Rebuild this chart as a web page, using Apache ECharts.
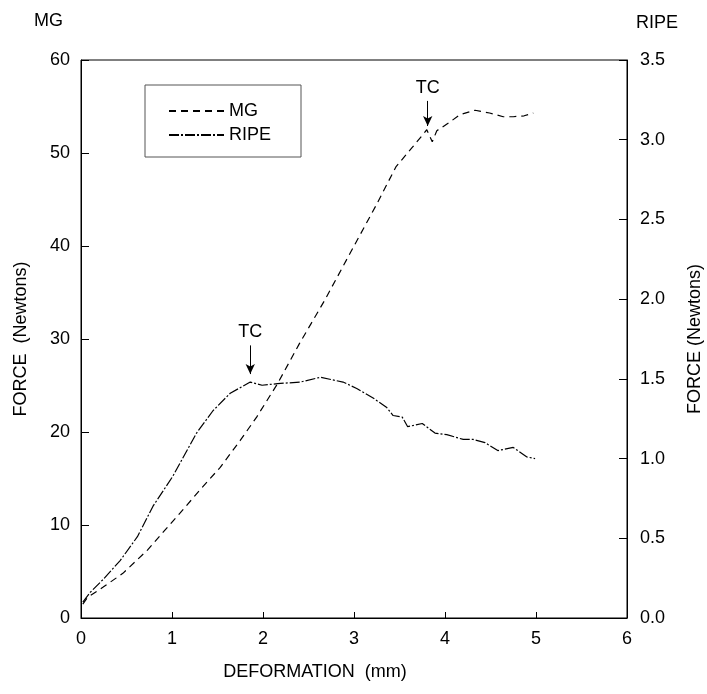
<!DOCTYPE html>
<html>
<head>
<meta charset="utf-8">
<script src="https://cdn.jsdelivr.net/npm/echarts@6/dist/echarts.min.js"></script>
<style>
  html, body { margin: 0; padding: 0; background: #fff; }
  #chart { width: 707px; height: 694px; }
</style>
</head>
<body>
<div id="chart"></div>
<script>
// deformation (mm) / force (N)
var mgX = [0.02, 0.07, 0.24, 0.46, 0.73, 0.90, 1.09, 1.31, 1.53, 1.75, 1.93, 2.16, 2.40, 2.68, 3.00, 3.25, 3.46, 3.64, 3.75, 3.80, 3.86, 3.91, 4.05, 4.16, 4.33, 4.49, 4.64, 4.75, 4.87, 4.97];
var mgY = [1.5, 2.2, 3.3, 4.8, 7.3, 9.2, 11.3, 13.8, 16.2, 19.1, 21.6, 25.2, 29.5, 34.2, 40.0, 44.5, 48.5, 50.6, 51.9, 52.5, 51.2, 52.4, 53.3, 54.1, 54.6, 54.3, 53.9, 53.9, 54.0, 54.3];

var ripeX = [0.02, 0.10, 0.24, 0.43, 0.62, 0.79, 1.01, 1.27, 1.45, 1.64, 1.86, 1.99, 2.16, 2.41, 2.63, 2.88, 3.03, 3.21, 3.36, 3.43, 3.53, 3.59, 3.75, 3.89, 4.02, 4.20, 4.31, 4.44, 4.58, 4.75, 4.90, 4.99];
var ripeY = [0.10, 0.16, 0.24, 0.36, 0.51, 0.70, 0.89, 1.16, 1.30, 1.41, 1.48, 1.46, 1.47, 1.48, 1.51, 1.48, 1.44, 1.38, 1.32, 1.27, 1.26, 1.20, 1.22, 1.16, 1.15, 1.12, 1.12, 1.10, 1.05, 1.07, 1.01, 1.00];

var xTicks = [0, 6, 1];
var mgTicks = [0, 60, 10];
var ripeTicks = [0, 3.5, 0.5];

function pairs(xs, ys) {
    return xs.map(function (x, i) { return [x, ys[i]]; });
}

var font = 'Liberation Sans';
var fs = 18;
var chart = echarts.init(document.getElementById('chart'));

var tcLabel = {
    show: true,
    position: 'start',
    formatter: 'TC',
    color: '#000',
    fontSize: fs,
    fontFamily: font,
    distance: 4
};

chart.setOption({
    animation: false,
    backgroundColor: '#fff',
    textStyle: { fontFamily: font, color: '#000' },
    grid: {
        left: 81, right: 80, top: 60, bottom: 76,
        outerBoundsMode: 'none',
        containLabel: false,
        show: true, borderColor: '#000', borderWidth: 1
    },
    legend: {
        orient: 'vertical',
        left: 145, top: 85,
        padding: [17, 30, 13, 23],
        itemGap: 6,
        itemWidth: 55,
        itemHeight: 12,
        itemStyle: { opacity: 0 },
        borderColor: '#555',
        borderWidth: 1,
        textStyle: { fontSize: fs, fontFamily: font, color: '#000' },
        data: ['MG', 'RIPE']
    },
    xAxis: {
        type: 'value',
        min: xTicks[0], max: xTicks[1], interval: xTicks[2],
        name: 'DEFORMATION  (mm)',
        nameLocation: 'middle',
        nameGap: 45,
        nameTextStyle: { fontSize: fs, fontFamily: font, color: '#000', padding: [0, 78, 0, 0] },
        axisLine: { lineStyle: { color: '#000' } },
        axisTick: { inside: true, length: 6, lineStyle: { color: '#000' } },
        axisLabel: { fontSize: fs, color: '#000', margin: 12 },
        splitLine: { show: false }
    },
    yAxis: [{
        type: 'value',
        min: mgTicks[0], max: mgTicks[1], interval: mgTicks[2],
        name: 'FORCE  (Newtons)',
        nameLocation: 'middle',
        nameGap: 51,
        nameTextStyle: { fontSize: fs, fontFamily: font, color: '#000' },
        axisLine: { show: true, lineStyle: { color: '#000' } },
        axisTick: { inside: true, length: 8, lineStyle: { color: '#000' } },
        axisLabel: { fontSize: fs, color: '#000', margin: 11 },
        splitLine: { show: false }
    }, {
        type: 'value',
        position: 'right',
        min: ripeTicks[0], max: ripeTicks[1], interval: ripeTicks[2],
        name: 'FORCE (Newtons)',
        nameLocation: 'middle',
        nameGap: 59,
        nameRotate: 90,
        nameTextStyle: { fontSize: fs, fontFamily: font, color: '#000' },
        axisLine: { show: true, lineStyle: { color: '#000' } },
        axisTick: { inside: true, length: 8, lineStyle: { color: '#000' } },
        axisLabel: {
            fontSize: fs, color: '#000', margin: 13,
            formatter: function (v) { return v.toFixed(1); }
        },
        splitLine: { show: false }
    }],
    graphic: [
        { type: 'text', left: 34, top: 12, style: { text: 'MG', fontSize: fs, fontFamily: font, fill: '#000' } },
        { type: 'text', left: 636, top: 14, style: { text: 'RIPE', fontSize: fs, fontFamily: font, fill: '#000' } }
    ],
    series: [{
        name: 'MG',
        type: 'line',
        yAxisIndex: 0,
        data: pairs(mgX, mgY),
        showSymbol: false,
        symbol: 'none',
        lineStyle: { color: '#000', width: 1.2, type: [7, 5] },
        itemStyle: { color: '#000' },
        markLine: {
            silent: true,
            symbol: ['none', 'arrow'],
            symbolSize: [7, 10],
            lineStyle: { color: '#000', width: 1, type: 'solid' },
            label: tcLabel,
            data: [[{ coord: [3.81, 55.6] }, { coord: [3.81, 52.9] }]]
        }
    }, {
        name: 'RIPE',
        type: 'line',
        yAxisIndex: 1,
        data: pairs(ripeX, ripeY),
        showSymbol: false,
        symbol: 'none',
        lineStyle: { color: '#000', width: 1.2, type: [10, 2, 2, 2] },
        itemStyle: { color: '#000' },
        markLine: {
            silent: true,
            symbol: ['none', 'arrow'],
            symbolSize: [7, 10],
            lineStyle: { color: '#000', width: 1, type: 'solid' },
            label: tcLabel,
            data: [[{ coord: [1.86, 1.71] }, { coord: [1.86, 1.53] }]]
        }
    }]
});
</script>
</body>
</html>
